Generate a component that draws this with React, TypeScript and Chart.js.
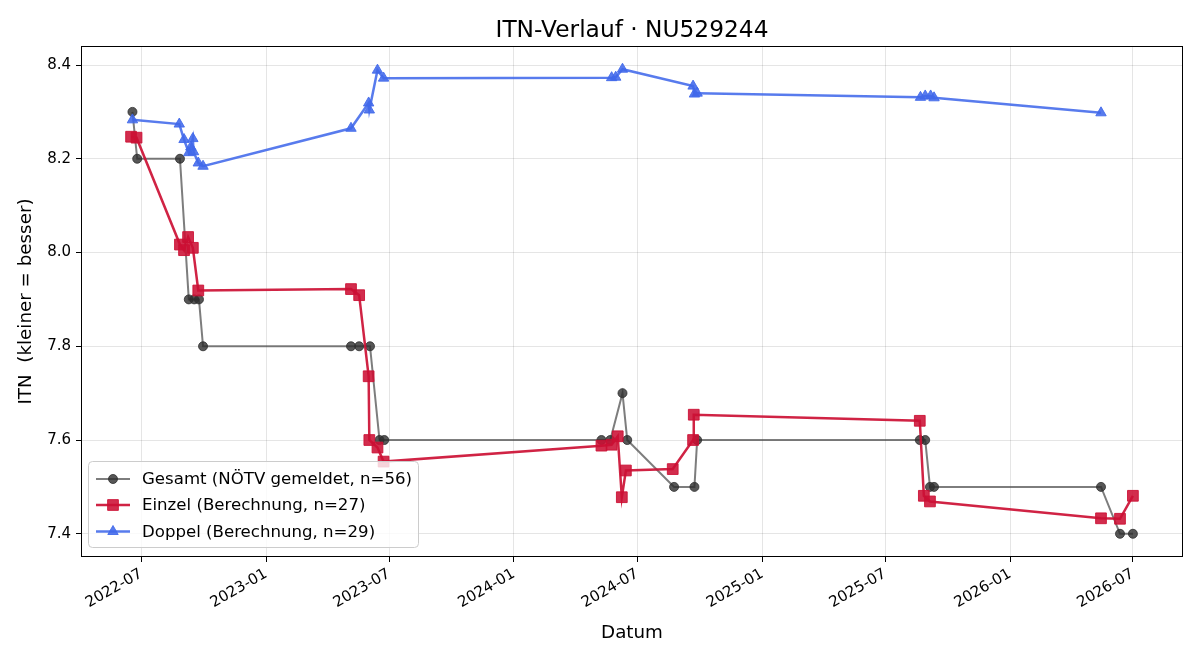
import React, { useEffect, useRef } from "react";
import { Chart, registerables } from "chart.js";

Chart.register(...registerables);

// ---------- data ----------
const GESAMT_DATES = [
  "2022-06-18", "2022-06-25", "2022-08-27", "2022-09-09", "2022-09-17", "2022-09-24", "2022-09-30",
  "2023-05-06", "2023-05-18", "2023-06-03", "2023-06-17", "2023-06-24",
  "2024-05-09", "2024-05-22", "2024-06-09", "2024-06-16", "2024-08-24", "2024-09-23", "2024-09-27",
  "2025-08-21", "2025-08-29", "2025-09-05", "2025-09-11",
  "2026-05-15", "2026-06-12", "2026-07-01",
];
const GESAMT_VALUES = [
  8.3, 8.2, 8.2, 7.9, 7.9, 7.9, 7.8,
  7.8, 7.8, 7.8, 7.6, 7.6,
  7.6, 7.6, 7.7, 7.6, 7.5, 7.5, 7.6,
  7.6, 7.6, 7.5, 7.5,
  7.5, 7.4, 7.4,
];

const EINZEL_DATES = [
  "2022-06-16", "2022-06-24", "2022-08-27", "2022-09-02", "2022-09-08", "2022-09-15", "2022-09-23",
  "2023-05-06", "2023-05-18", "2023-06-01", "2023-06-02", "2023-06-14", "2023-06-23",
  "2024-05-09", "2024-05-24", "2024-06-02", "2024-06-08", "2024-06-14", "2024-08-22", "2024-09-21", "2024-09-22",
  "2025-08-21", "2025-08-27", "2025-09-05",
  "2026-05-15", "2026-06-12", "2026-07-01",
];
const EINZEL_VALUES = [
  8.247, 8.245, 8.017, 8.005, 8.033, 8.01, 7.919,
  7.922, 7.909, 7.736, 7.6, 7.584, 7.554,
  7.588, 7.59, 7.608, 7.478, 7.535, 7.538, 7.6, 7.654,
  7.641, 7.481, 7.469,
  7.433, 7.432, 7.481,
];

const DOPPEL_DATES = [
  "2022-06-18", "2022-08-26", "2022-09-02", "2022-09-09", "2022-09-12", "2022-09-15", "2022-09-16",
  "2022-09-23", "2022-09-30",
  "2023-05-06", "2023-06-01", "2023-06-02", "2023-06-14", "2023-06-23",
  "2024-05-24", "2024-05-30", "2024-06-09", "2024-09-21", "2024-09-23", "2024-09-27",
  "2025-08-22", "2025-08-29", "2025-09-06", "2025-09-11",
  "2026-05-15",
];
const DOPPEL_VALUES = [
  8.283, 8.274, 8.241, 8.213, 8.225, 8.243, 8.215,
  8.191, 8.184,
  8.265, 8.319, 8.304, 8.389, 8.372,
  8.373, 8.374, 8.391, 8.355, 8.338, 8.34,
  8.331, 8.334, 8.334, 8.33,
  8.298,
];

const SERIES_LABELS = [
  "Gesamt (NÖTV gemeldet, n=56)",
  "Einzel (Berechnung, n=27)",
  "Doppel (Berechnung, n=29)",
];

const X_TICKS = [
  "2022-07-01", "2023-01-01", "2023-07-01", "2024-01-01", "2024-07-01",
  "2025-01-01", "2025-07-01", "2026-01-01", "2026-07-01",
];
const Y_TICKS = [7.4, 7.6, 7.8, 8.0, 8.2, 8.4];

const TITLE = "ITN-Verlauf · NU529244";
const X_LABEL = "Datum";
const Y_LABEL = "ITN  (kleiner = besser)";

// ---------- helpers ----------
const toTs = (s: string) => {
  const [y, m, d] = s.split("-").map(Number);
  return Date.UTC(y, m - 1, d);
};
const fmtMonth = (v: number) => {
  const d = new Date(v);
  const m = d.getUTCMonth() + 1;
  return `${d.getUTCFullYear()}-${m < 10 ? "0" + m : m}`;
};
const pts = (dates: string[], values: number[]) =>
  dates.map((d, i) => ({ x: toTs(d), y: values[i] }));

const FONT = "'DejaVu Sans', sans-serif";

const STYLES = [
  { line: "rgba(70,70,70,0.7)", fill: "rgba(45,45,45,0.8)", width: 2, style: "circle", radius: 4.5 },
  { line: "rgba(204,16,52,0.92)", fill: "rgba(204,16,52,0.88)", width: 2.5, style: "rect", radius: 7.6 },
  { line: "rgba(65,105,235,0.88)", fill: "rgba(65,105,235,0.88)", width: 2.5, style: "triangle", radius: 6 },
];

function drawMarker(ctx: CanvasRenderingContext2D, style: string, x: number, y: number, r: number) {
  ctx.beginPath();
  if (style === "circle") {
    ctx.arc(x, y, r, 0, Math.PI * 2);
  } else if (style === "rect") {
    const s = Math.SQRT1_2 * r;
    ctx.rect(x - s, y - s, 2 * s, 2 * s);
  } else {
    let rad = 0;
    ctx.moveTo(x + Math.sin(rad) * r, y - Math.cos(rad) * r);
    rad += (2 * Math.PI) / 3;
    ctx.lineTo(x + Math.sin(rad) * r, y - Math.cos(rad) * r);
    rad += (2 * Math.PI) / 3;
    ctx.lineTo(x + Math.sin(rad) * r, y - Math.cos(rad) * r);
    ctx.closePath();
  }
  ctx.fill();
  ctx.stroke();
}

const framePlugin = {
  id: "mplFrameLegend",
  afterDraw(chart: any) {
    const ctx: CanvasRenderingContext2D = chart.ctx;
    const a = chart.chartArea;
    ctx.save();
    // title centred over the axes
    ctx.fillStyle = "#000";
    ctx.font = `23.3px ${FONT}`;
    ctx.textAlign = "center";
    ctx.textBaseline = "alphabetic";
    ctx.fillText(TITLE, (a.left + a.right) / 2, a.top - 9);

    // frame
    ctx.strokeStyle = "#000";
    ctx.lineWidth = 1;
    ctx.strokeRect(Math.round(a.left) + 0.5, Math.round(a.top) + 0.5, Math.round(a.right - a.left) - 1, Math.round(a.bottom - a.top) - 1);

    // legend box
    const bx = a.left + 7.5;
    const by = a.bottom - 95.5;
    const bw = 330;
    const bh = 86;
    const r = 4;
    ctx.beginPath();
    ctx.moveTo(bx + r, by);
    ctx.lineTo(bx + bw - r, by);
    ctx.quadraticCurveTo(bx + bw, by, bx + bw, by + r);
    ctx.lineTo(bx + bw, by + bh - r);
    ctx.quadraticCurveTo(bx + bw, by + bh, bx + bw - r, by + bh);
    ctx.lineTo(bx + r, by + bh);
    ctx.quadraticCurveTo(bx, by + bh, bx, by + bh - r);
    ctx.lineTo(bx, by + r);
    ctx.quadraticCurveTo(bx, by, bx + r, by);
    ctx.closePath();
    ctx.fillStyle = "rgba(255,255,255,0.8)";
    ctx.fill();
    ctx.strokeStyle = "#cccccc";
    ctx.lineWidth = 1;
    ctx.stroke();

    const rows = [a.bottom - 78, a.bottom - 52, a.bottom - 25.5];
    SERIES_LABELS.forEach((label, i) => {
      const st = STYLES[i];
      const y = rows[i];
      ctx.strokeStyle = st.line;
      ctx.lineWidth = st.width;
      ctx.beginPath();
      ctx.moveTo(a.left + 15, y);
      ctx.lineTo(a.left + 49, y);
      ctx.stroke();
      ctx.fillStyle = st.fill;
      ctx.strokeStyle = st.fill;
      ctx.lineWidth = 1;
      drawMarker(ctx, st.style, a.left + 32, y, st.radius);
      ctx.fillStyle = "#000";
      ctx.font = `16.6px ${FONT}`;
      ctx.textAlign = "left";
      ctx.textBaseline = "middle";
      ctx.fillText(label, a.left + 61, y + 1);
    });
    ctx.restore();
  },
};

export default function App() {
  const ref = useRef<HTMLCanvasElement | null>(null);

  useEffect(() => {
    if (!ref.current) return;
    const all = [
      pts(GESAMT_DATES, GESAMT_VALUES),
      pts(EINZEL_DATES, EINZEL_VALUES),
      pts(DOPPEL_DATES, DOPPEL_VALUES),
    ];
    const xs = all.flat().map((p) => p.x);
    const ys = all.flat().map((p) => p.y);
    const xMin = Math.min(...xs), xMax = Math.max(...xs);
    const yMin = Math.min(...ys), yMax = Math.max(...ys);
    const xPad = (xMax - xMin) * 0.05;
    const yPad = (yMax - yMin) * 0.05;

    const datasets = all.map((data, i) => {
      const st = STYLES[i];
      return {
        label: SERIES_LABELS[i],
        data,
        borderColor: st.line,
        borderWidth: st.width,
        backgroundColor: st.fill,
        pointStyle: st.style,
        pointRadius: st.radius,
        pointBackgroundColor: st.fill,
        pointBorderColor: st.fill,
        pointBorderWidth: 1,
        tension: 0,
        fill: false,
        order: 3 - i,
      };
    });

    const chart = new Chart(ref.current, {
      type: "line",
      data: { datasets } as any,
      plugins: [framePlugin],
      options: {
        animation: false,
        responsive: false,
        devicePixelRatio: 1,
        events: [],
        layout: { padding: { left: 0, right: 17, top: 46, bottom: 0 } },
        plugins: {
          legend: { display: false },
          tooltip: { enabled: false },
          title: { display: false },
        },
        scales: {
          x: {
            type: "linear",
            min: xMin - xPad,
            max: xMax + xPad,
            afterBuildTicks: (scale: any) => {
              scale.ticks = X_TICKS.map((d) => ({ value: toTs(d) }));
            },
            afterFit: (scale: any) => {
              scale.height = 103;
            },
            ticks: {
              autoSkip: false,
              minRotation: 30,
              maxRotation: 30,
              color: "#000",
              padding: 3,
              font: { family: FONT, size: 15 },
              callback: (v: any) => fmtMonth(Number(v)),
            },
            grid: {
              color: "rgba(0,0,0,0.1)",
              lineWidth: 1,
              drawTicks: true,
              tickLength: 5,
              tickColor: "#000",
              tickWidth: 1,
            },
            border: { display: false },
            title: {
              display: true,
              text: X_LABEL,
              color: "#000",
              font: { family: FONT, size: 18.3, lineHeight: 1.2 },
              padding: { top: 4, bottom: 16 },
            },
          },
          y: {
            type: "linear",
            min: yMin - yPad,
            max: yMax + yPad,
            afterBuildTicks: (scale: any) => {
              scale.ticks = Y_TICKS.map((v) => ({ value: v }));
            },
            afterFit: (scale: any) => {
              scale.width = 81;
            },
            ticks: {
              color: "#000",
              padding: 5,
              font: { family: FONT, size: 15 },
              callback: (v: any) => Number(v).toFixed(1),
            },
            grid: {
              color: "rgba(0,0,0,0.1)",
              lineWidth: 1,
              drawTicks: true,
              tickLength: 5,
              tickColor: "#000",
              tickWidth: 1,
            },
            border: { display: false },
            title: {
              display: true,
              text: Y_LABEL,
              color: "#000",
              font: { family: FONT, size: 18.3, lineHeight: 1.2 },
              padding: { top: 15, bottom: 0 },
            },
          },
        },
      } as any,
    });
    return () => chart.destroy();
  }, []);

  return (
    <div style={{ position: "absolute", left: 0, top: 0, width: 1200, height: 660, background: "#fff" }}>
      <canvas ref={ref} width={1200} height={660} style={{ display: "block", width: 1200, height: 660 }} />
    </div>
  );
}
